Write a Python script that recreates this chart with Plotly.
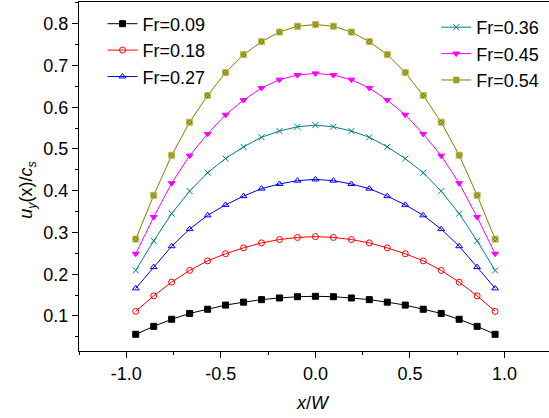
import plotly.graph_objects as go

x_vals = [-0.95, -0.855, -0.76, -0.665, -0.57, -0.475, -0.38, -0.285, -0.19, -0.095, 0.0,
          0.095, 0.19, 0.285, 0.38, 0.475, 0.57, 0.665, 0.76, 0.855, 0.95]

fr_009 = [0.056, 0.075, 0.092, 0.106, 0.116, 0.126, 0.133, 0.139, 0.143, 0.146, 0.147,
          0.146, 0.143, 0.139, 0.133, 0.126, 0.116, 0.106, 0.092, 0.075, 0.056]
fr_018 = [0.111, 0.148, 0.181, 0.209, 0.232, 0.249, 0.263, 0.275, 0.283, 0.288, 0.290,
          0.288, 0.283, 0.275, 0.263, 0.249, 0.232, 0.209, 0.181, 0.148, 0.111]
fr_027 = [0.166, 0.217, 0.267, 0.308, 0.341, 0.366, 0.387, 0.405, 0.416, 0.424, 0.427,
          0.424, 0.416, 0.405, 0.387, 0.366, 0.341, 0.308, 0.267, 0.217, 0.166]
fr_036 = [0.209, 0.280, 0.345, 0.399, 0.443, 0.477, 0.505, 0.528, 0.543, 0.553, 0.557,
          0.553, 0.543, 0.528, 0.505, 0.477, 0.443, 0.399, 0.345, 0.280, 0.209]
fr_045 = [0.249, 0.337, 0.418, 0.484, 0.536, 0.582, 0.617, 0.646, 0.666, 0.677, 0.681,
          0.677, 0.666, 0.646, 0.617, 0.582, 0.536, 0.484, 0.418, 0.337, 0.249]
fr_054 = [0.284, 0.389, 0.485, 0.564, 0.628, 0.683, 0.726, 0.757, 0.780, 0.794, 0.798,
          0.794, 0.780, 0.757, 0.726, 0.683, 0.628, 0.564, 0.485, 0.389, 0.284]

x_ticks = [-1.0, -0.5, 0.0, 0.5, 1.0]
x_tick_labels = ["-1.0", "-0.5", "0.0", "0.5", "1.0"]
y_ticks = [0.1, 0.2, 0.3, 0.4, 0.5, 0.6, 0.7, 0.8]
y_tick_labels = ["0.1", "0.2", "0.3", "0.4", "0.5", "0.6", "0.7", "0.8"]

series_names = ["Fr=0.09", "Fr=0.18", "Fr=0.27", "Fr=0.36", "Fr=0.45", "Fr=0.54"]
series_vals = [fr_009, fr_018, fr_027, fr_036, fr_045, fr_054]
colors = ["#000000", "#ff0000", "#0000ff", "#008080", "#ff00ff", "#808000"]
symbols = ["square", "circle-open", "triangle-up-open", "x-thin-open", "triangle-down", "square-x"]
legend_ids = ["legend", "legend", "legend", "legend2", "legend2", "legend2"]

FONT = "Liberation Sans, Arial, sans-serif"

fig = go.Figure()
for name, vals, col, sym, lg in zip(series_names, series_vals, colors, symbols, legend_ids):
    mline = dict(color=col, width=1)
    if sym == "square-x":
        mline = dict(color="#c0c060", width=1)
    fig.add_trace(go.Scatter(
        x=x_vals, y=vals, mode="lines+markers", name=name,
        line=dict(color=col, width=1),
        marker=dict(symbol=sym, color=col, size=6, line=mline),
        legend=lg,
    ))

axis_common = dict(
    showline=True, linecolor="#000000", linewidth=1.3,
    ticks="outside", ticklen=6, tickwidth=1.1, tickcolor="#000000",
    showgrid=False, zeroline=False, automargin=False,
    tickfont=dict(family=FONT, size=18, color="#000000"),
)

fig.update_xaxes(
    range=[-1.25, 1.235], tickvals=x_ticks, ticktext=x_tick_labels,
    mirror=True,
    minor=dict(tickvals=[-1.25, -0.75, -0.25, 0.25, 0.75], ticklen=3, ticks="outside", tickcolor="#000000"),
    **axis_common,
)
fig.update_yaxes(
    range=[0.016, 0.852], tickvals=y_ticks, ticktext=y_tick_labels,
    minor=dict(tickvals=[0.05, 0.15, 0.25, 0.35, 0.45, 0.55, 0.65, 0.75, 0.85], ticklen=3, ticks="outside", tickcolor="#000000"),
    **axis_common,
)

fig.add_annotation(
    text="<i>x</i>/<i>W</i>", xref="paper", yref="paper",
    x=(313 - 78.5) / 470.5, y=-(403 - 350.7) / 348.7, xanchor="center", yanchor="middle",
    showarrow=False, font=dict(family=FONT, size=18, color="#000000"),
)
fig.add_annotation(
    text="<i>u</i><sub><i>y</i></sub>(x)/<i>c</i><sub><i>s</i></sub>", xref="paper", yref="paper",
    x=-(78.5 - 27) / 470.5, y=(350.7 - 190) / 348.7, xanchor="center", yanchor="middle",
    textangle=-90, showarrow=False, font=dict(family=FONT, size=18, color="#000000"),
)

legend_style = dict(font=dict(family=FONT, size=18, color="#000000"), bgcolor="rgba(0,0,0,0)",
                    xanchor="left", yanchor="top", tracegroupgap=0, itemwidth=30)

fig.update_layout(
    width=549, height=418,
    margin=dict(l=78.5, r=0, t=2, b=67.3),
    plot_bgcolor="#ffffff", paper_bgcolor="#ffffff",
    legend=dict(x=0.05, y=0.99, **legend_style),
    legend2=dict(x=0.76, y=0.98, **legend_style),
    showlegend=True,
)

fig.write_html("out.html", config={"displayModeBar": False},
               post_script="document.body.style.margin='0';document.body.style.overflow='hidden';")
